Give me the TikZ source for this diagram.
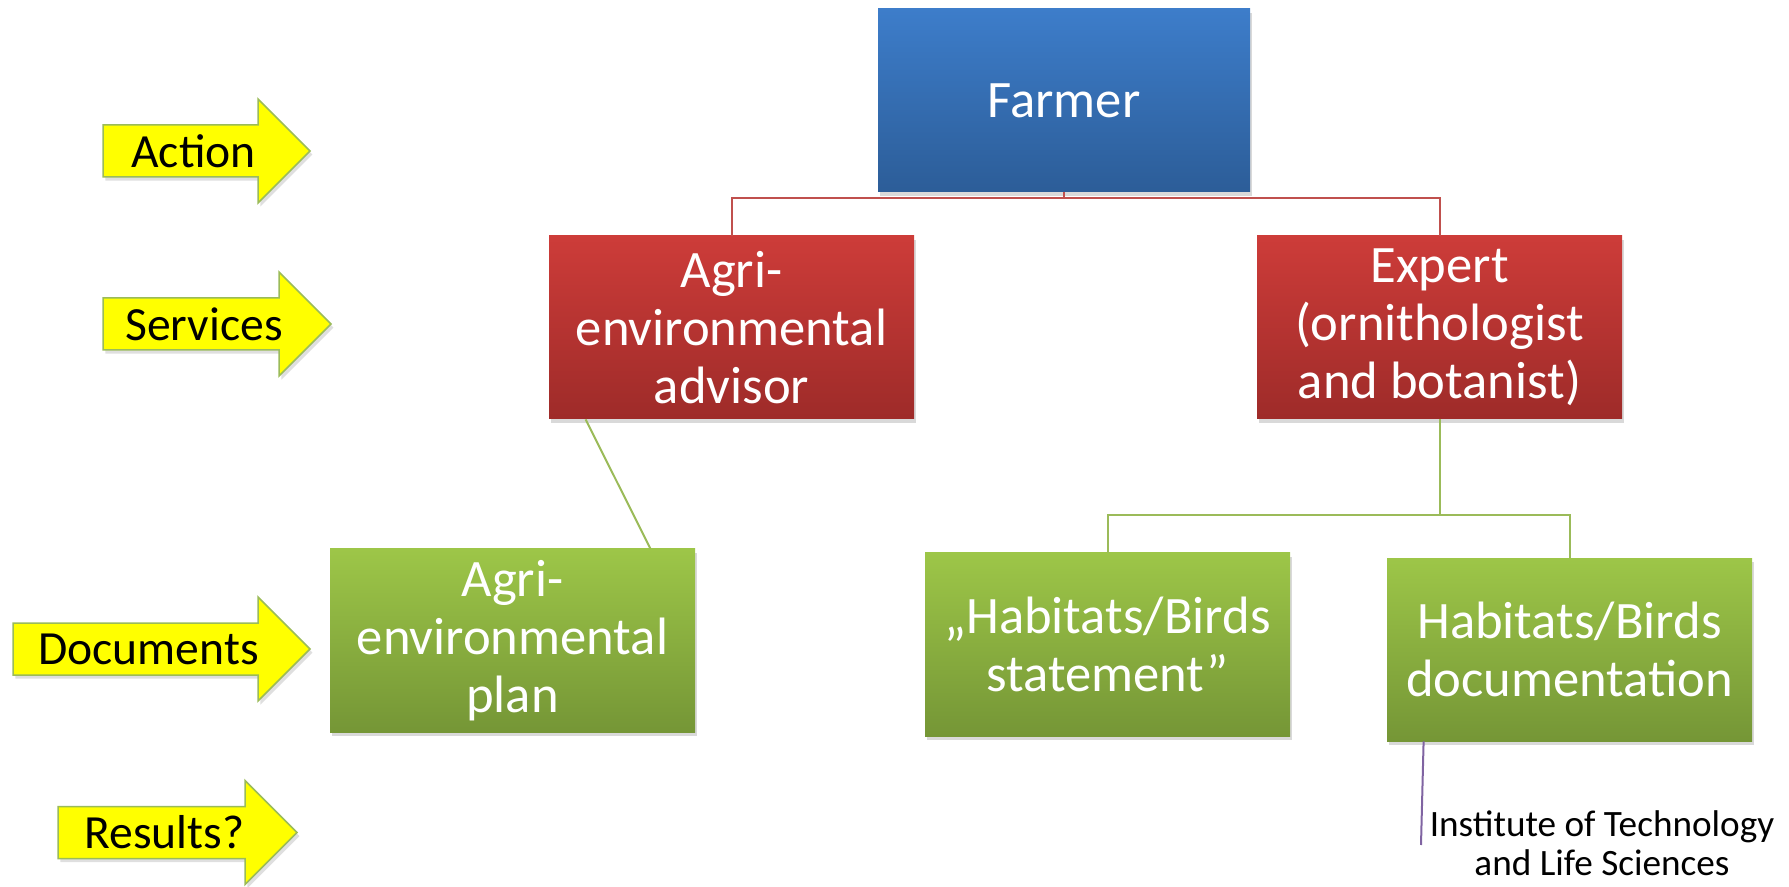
\documentclass[tikz,border=0pt]{standalone}
\usepackage{fontspec}
\setmainfont{Carlito}
\usetikzlibrary{calc,shadows}

\definecolor{farmertop}{RGB}{61,125,202}
\definecolor{farmerbot}{RGB}{44,93,152}
\definecolor{servtop}{RGB}{205,60,57}
\definecolor{servbot}{RGB}{158,43,41}
\definecolor{doctop}{RGB}{157,198,72}
\definecolor{docbot}{RGB}{117,150,54}
\definecolor{yellowfill}{RGB}{255,255,0}
\definecolor{arrowedge}{RGB}{155,187,89}
\definecolor{linered}{RGB}{192,80,77}
\definecolor{linegreen}{RGB}{155,187,89}
\definecolor{linepurple}{RGB}{128,100,162}

\tikzset{
  box/.style={rectangle, minimum width=182.5pt, minimum height=91.5pt, inner sep=0pt,
    align=center, text=white, font=\fontsize{26.3}{29}\selectfont,
    drop shadow={shadow xshift=1.2pt, shadow yshift=-1.8pt, opacity=0.3}},
  bluebox/.style={box, top color=farmertop, bottom color=farmerbot},
  redbox/.style={box, top color=servtop, bottom color=servbot},
  greenbox/.style={box, top color=doctop, bottom color=docbot},
  yarrow/.style={fill=yellowfill, draw=arrowedge, line width=0.75pt,
    drop shadow={shadow xshift=1.2pt, shadow yshift=-1.8pt, opacity=0.25}},
  ylabel/.style={font=\fontsize{23.8}{26}\selectfont, inner sep=0pt},
  redline/.style={draw=linered, line width=1pt},
  greenline/.style={draw=linegreen, line width=1pt},
  purpleline/.style={draw=linepurple, line width=1pt}
}

\begin{document}
\begin{tikzpicture}[x=0.5pt,y=-0.5pt]
\useasboundingbox (0,0) rectangle (1789,887);

\foreach \l/\t/\y/\txt/\nm in {103/310/151/Action/action, 103/331/324/Services/services,
  13/310/649/Documents/documents, 58/297/832.5/Results?/results}
{
  \draw[yarrow] (\l,{\y-26}) -- ({\t-52},{\y-26}) -- ({\t-52},{\y-52}) -- (\t,\y)
    -- ({\t-52},{\y+52}) -- ({\t-52},{\y+26}) -- (\l,{\y+26}) -- cycle;
  \node[ylabel] (\nm) at ({(\l+\t-52)/2+13},\y) {\txt};
}

\node[bluebox, minimum width=186pt] (farmer) at (1064,100.5) {Farmer};
\node[redbox] (advisor) at (731.5,327.5) {Agri-\\environmental\\advisor};
\node[redbox] (expert) at (1439.5,327.5) {Expert\\(ornithologist\\and botanist)};
\node[greenbox] (plan) at (512.5,640.5) {Agri-\\environmental\\plan};
\node[greenbox] (statement) at (1107.5,644.5) {„Habitats/Birds\\statement”};
\node[greenbox] (docu) at (1569.5,649.5) {Habitats/Birds\\documentation};

\draw[redline] (farmer.south) -- ++(0,6) -| (advisor.north);
\draw[redline] (farmer.south) -- ++(0,6) -| (expert.north);
\draw[greenline] ($(advisor.south west)+(37,0)$) -- ($(plan.north east)+(-45,0)$);
\draw[greenline] (expert.south) -- ++(0,96) -| (statement.north);
\draw[greenline] (expert.south) -- ++(0,96) -| (docu.north);

\node[align=center, inner sep=0pt, font=\fontsize{18.6}{19.5}\selectfont] (inst) at (1602,843)
  {Institute of Technology\\and Life Sciences};
\coordinate (instend) at (1421,845);
\draw[purpleline] ($(docu.south west)+(37,0)$) -- (instend);
\end{tikzpicture}
\end{document}
